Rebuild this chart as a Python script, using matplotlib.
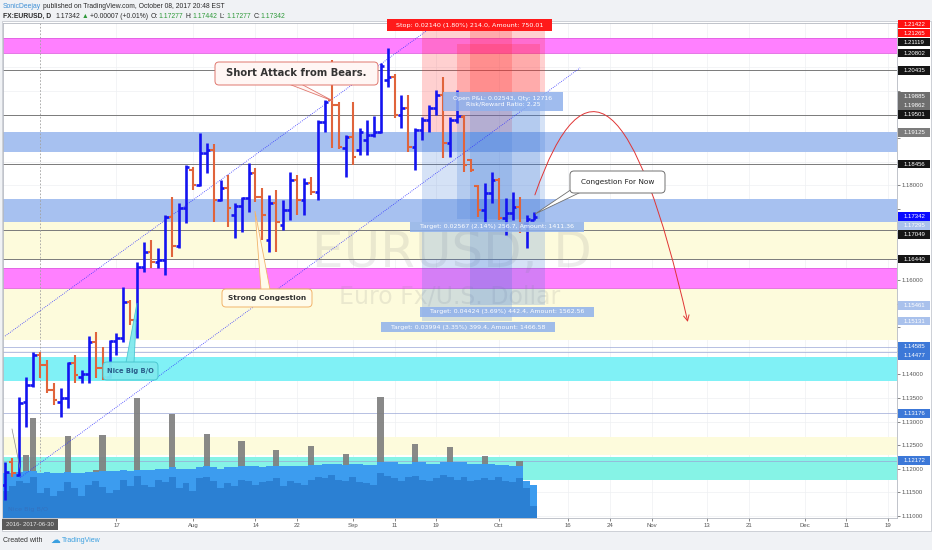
import matplotlib
matplotlib.use("Agg")
import matplotlib.pyplot as plt
import numpy as np
import pandas as pd
from matplotlib.patches import Rectangle, FancyBboxPatch, Polygon, FancyArrowPatch
from matplotlib.path import Path
from matplotlib.transforms import Affine2D, blended_transform_factory

plt.rcParams['font.family'] = ['Liberation Sans', 'DejaVu Sans']

# ------------------------------------------------------------------ data
first_bar = "2017-06-23"
last_axis_day = "2017-12-29"

opens = [1.1165, 1.1215, 1.1187, 1.1341, 1.1377, 1.1441, 1.1420, 1.1367, 1.1341, 1.1350,
         1.1424, 1.1394, 1.1401, 1.1469, 1.1413, 1.1394, 1.1470, 1.1477, 1.1553, 1.1515,
         1.1628, 1.1659, 1.1638, 1.1642, 1.1734, 1.1672, 1.1753, 1.1833, 1.1801, 1.1869,
         1.1876, 1.1770, 1.1795, 1.1738, 1.1757, 1.1774, 1.1827, 1.1776, 1.1685, 1.1763,
         1.1717, 1.1748, 1.1812, 1.1770, 1.1806, 1.1787, 1.1935, 1.1982, 1.1971, 1.1880,
         1.1903, 1.1876, 1.1897, 1.1907, 1.1914, 1.2024, 1.2030, 1.1950, 1.1965, 1.1882,
         1.1918, 1.1939, 1.1965, 1.1992, 1.1890, 1.1939, 1.1944, 1.1854, 1.1799, 1.1748,
         1.1784, 1.1812, 1.1731, 1.1742, 1.1755, 1.1721, 1.17277]
highs = [1.1214, 1.1223, 1.1352, 1.1394, 1.1447, 1.1447, 1.1430, 1.1382, 1.1371, 1.1426,
         1.1441, 1.1409, 1.1481, 1.1490, 1.1458, 1.1473, 1.1488, 1.1585, 1.1558, 1.1638,
         1.1681, 1.1685, 1.1668, 1.1738, 1.1776, 1.1763, 1.1844, 1.1840, 1.1912, 1.1890,
         1.1888, 1.1812, 1.1823, 1.1763, 1.1776, 1.1848, 1.1837, 1.1795, 1.1780, 1.1791,
         1.1770, 1.1829, 1.1823, 1.1816, 1.1818, 1.1939, 1.1982, 1.2066, 1.1977, 1.1907,
         1.1977, 1.1922, 1.1939, 1.1948, 1.2060, 1.2092, 1.2035, 1.1992, 1.1992, 1.1922,
         1.1946, 1.1971, 1.2003, 1.2030, 1.1946, 1.2003, 1.1950, 1.1857, 1.1801, 1.1806,
         1.1829, 1.1815, 1.1774, 1.1787, 1.1776, 1.1738, 1.17442]
lows = [1.1134, 1.1182, 1.1185, 1.1288, 1.1373, 1.1392, 1.1360, 1.1335, 1.1310, 1.1329,
        1.1382, 1.1382, 1.1382, 1.1392, 1.1388, 1.1392, 1.1441, 1.1469, 1.1505, 1.1477,
        1.1617, 1.1625, 1.1625, 1.1611, 1.1649, 1.1668, 1.1721, 1.1791, 1.1798, 1.1827,
        1.1723, 1.1768, 1.1712, 1.1689, 1.1702, 1.1744, 1.1765, 1.1685, 1.1659, 1.1659,
        1.1706, 1.1727, 1.1738, 1.1738, 1.1780, 1.1770, 1.1914, 1.1880, 1.1878, 1.1818,
        1.1844, 1.1865, 1.1865, 1.1903, 1.1912, 1.2009, 1.1943, 1.1922, 1.1871, 1.1833,
        1.1897, 1.1914, 1.1950, 1.1859, 1.1861, 1.1933, 1.1829, 1.1829, 1.1734, 1.1723,
        1.1763, 1.1727, 1.1695, 1.1727, 1.1700, 1.1668, 1.17277]
closes = [1.1193, 1.1191, 1.1339, 1.1377, 1.1441, 1.1420, 1.1367, 1.1346, 1.1350, 1.1424,
          1.1399, 1.1401, 1.1469, 1.1413, 1.1394, 1.1470, 1.1477, 1.1553, 1.1515, 1.1628,
          1.1659, 1.1638, 1.1642, 1.1734, 1.1672, 1.1753, 1.1840, 1.1801, 1.1869, 1.1876,
          1.1770, 1.1795, 1.1753, 1.1757, 1.1774, 1.1827, 1.1776, 1.1738, 1.1763, 1.1723,
          1.1748, 1.1812, 1.1770, 1.1806, 1.1787, 1.1935, 1.1977, 1.1971, 1.1882, 1.1903,
          1.1861, 1.1914, 1.1907, 1.1914, 1.2052, 1.2030, 1.1950, 1.1965, 1.1882, 1.1918,
          1.1939, 1.1965, 1.1992, 1.1890, 1.1939, 1.1948, 1.1844, 1.1833, 1.1748, 1.1784,
          1.1812, 1.1731, 1.1742, 1.1755, 1.1721, 1.1728, 1.17342]

volume = [28, 30, 33, 51, 81, 30, 32, 30, 28, 66, 30, 28, 31, 39, 67, 30, 33, 39, 32, 97,
          34, 35, 39, 38, 84, 35, 36, 33, 37, 68, 38, 34, 36, 35, 62, 36, 38, 35, 37, 55,
          36, 34, 37, 36, 58, 38, 40, 42, 38, 52, 40, 39, 38, 40, 98, 42, 40, 38, 41, 60,
          40, 39, 41, 42, 57, 40, 41, 40, 42, 50, 41, 40, 39, 40, 46, 30, 8]
volume_avg = [36, 36, 37, 38, 38, 36, 37, 36, 36, 37, 36, 36, 37, 37, 38, 38, 38, 39, 38, 39,
              39, 39, 40, 40, 41, 40, 40, 40, 41, 42, 41, 40, 41, 41, 42, 42, 42, 41, 42, 42,
              42, 42, 42, 42, 43, 43, 44, 44, 44, 43, 44, 44, 43, 43, 45, 45, 45, 44, 44, 45,
              45, 44, 44, 45, 45, 45, 45, 44, 44, 44, 44, 43, 43, 42, 42, 30, 27]
volume_base = [22, 26, 30, 28, 33, 20, 24, 18, 22, 29, 24, 18, 27, 30, 25, 20, 23, 31, 26, 34,
               27, 25, 31, 29, 33, 24, 28, 22, 32, 33, 30, 24, 28, 26, 31, 30, 27, 29, 30, 32,
               26, 30, 28, 27, 31, 33, 32, 35, 31, 30, 33, 29, 28, 27, 36, 34, 32, 30, 33, 34,
               31, 30, 32, 35, 33, 31, 33, 30, 31, 32, 31, 33, 30, 29, 32, 24, 10]

tick_dates = ["2017-07-17", "2017-08-01", "2017-08-14", "2017-08-22", "2017-09-01",
              "2017-09-11", "2017-09-19", "2017-10-02", "2017-10-16", "2017-10-24",
              "2017-11-01", "2017-11-13", "2017-11-21", "2017-12-01", "2017-12-11",
              "2017-12-19"]
tick_labels = ["17", "Aug", "14", "22", "Sep", "11", "19", "Oct", "16", "24", "Nov",
               "13", "21", "Dec", "11", "19"]

band_low = [1.20802, 1.18710, 1.17235, 1.16440, 1.15830, 1.14730, 1.13860, 1.12290, 1.11760]
band_high = [1.21119, 1.19125, 1.17720, 1.17235, 1.16250, 1.15830, 1.14370, 1.12670, 1.12250]
band_colors = ['#ff80ff', '#a7c1f0', '#a7c1f0', '#fdfbdc', '#ff80ff', '#fdfbdc',
               '#80f1f6', '#fdfbdc', '#86f3e6']

level_lines = [1.20435, 1.19501, 1.18456, 1.17049, 1.16440]
thin_levels = [1.14585, 1.14477, 1.13176, 1.12172]

axis_label_prices = [1.21422, 1.21265, 1.21119, 1.20802, 1.20435, 1.19885, 1.19862,
                     1.19501, 1.19125, 1.18456, 1.17342, 1.17295, 1.17049, 1.16440,
                     1.15461, 1.15131, 1.14585, 1.14477, 1.13176, 1.12172]
axis_label_colors = ['#ff1010', '#ff1010', '#151515', '#151515', '#151515', '#6e6e6e',
                     '#6e6e6e', '#151515', '#7c7c7c', '#151515', '#0a0aff', '#a9c1ec',
                     '#151515', '#151515', '#a9c1ec', '#a9c1ec', '#3c78d8', '#3c78d8',
                     '#3c78d8', '#3c78d8']

# short position tools: entry / stop / target
tool_entry = [1.19125, 1.19862, 1.19885]
tool_stop = [1.21265, 1.21003, 1.21422]
tool_target = [1.15131, 1.17295, 1.15461]

stop_text = "Stop: 0.02140 (1.80%) 214.0, Amount: 750.01"
pnl_text = "Open P&L: 0.02543, Qty: 12716\nRisk/Reward Ratio: 2.25"
target_texts = ["Target: 0.03994 (3.35%) 399.4, Amount: 1466.58",
                "Target: 0.02567 (2.14%) 256.7, Amount: 1411.36",
                "Target: 0.04424 (3.69%) 442.4, Amount: 1562.56"]

# ------------------------------------------------------------------ layout
W, H = 932, 550
AX_L, AX_R, AX_T, AX_B = 3, 897, 23, 518
XMIN, XMAX = -0.33, 128.3
YMIN, YMAX = 1.10958, 1.2144

fig = plt.figure(figsize=(W / 100, H / 100), dpi=100)
fig.patch.set_facecolor('#f0f2f5')
T = Affine2D().scale(1 / W, -1 / H).translate(0, 1) + fig.transFigure


def ftext(x, y, s, **kw):
    kw.setdefault('transform', T)
    return fig.text(x, y, s, **kw)


fig.add_artist(Rectangle((2, 21), 929, 510, transform=T, facecolor='white',
                         edgecolor='#c6cad1', lw=0.6, zorder=-1))

ax = fig.add_axes([AX_L / W, (H - AX_B) / H, (AX_R - AX_L) / W, (AX_B - AX_T) / H])
ax.set_facecolor('white')

days = pd.bdate_range(first_bar, last_axis_day)
tick_pos = [days.get_loc(pd.Timestamp(d)) for d in tick_dates]

o, h, l, c = (np.array(a) for a in (opens, highs, lows, closes))
x = np.arange(len(o))

# bands and levels
for lo_, hi_, col in zip(band_low, band_high, band_colors):
    ax.axhspan(lo_, hi_, color=col, lw=0, zorder=1)
for lv in (1.20802, 1.21119, 1.15830, 1.16250):
    ax.axhline(lv, color='#e060e0', lw=0.6, zorder=1.2)
for lv in level_lines:
    ax.axhline(lv, color='#7a7a7a', lw=0.7, zorder=1.2)
for lv in thin_levels:
    ax.axhline(lv, color='#9aa6d6', lw=0.5, zorder=1.2)
ax.axvline(days.get_loc(pd.Timestamp("2017-06-30")), color='#a0a0a0', lw=0.6,
           ls=(0, (2, 2)), zorder=1.3)

# watermark
ax.text(452, 253, "EURUSD, D", transform=T, fontsize=36, family='DejaVu Sans',
        color='#8a8a8a', alpha=0.16, ha='center', va='center', zorder=1.5)
ax.text(450, 297, "Euro Fx/U.S. Dollar", transform=T, fontsize=17, family='DejaVu Sans',
        color='#8a8a8a', alpha=0.16, ha='center', va='center', zorder=1.5)

# position tools
tool_x = [(59.9, 72.9), (65.0, 76.9), (66.9, 77.7)]
for (x0, x1), e, s, t in zip(tool_x, tool_entry, tool_stop, tool_target):
    ax.add_patch(Rectangle((x0, e), x1 - x0, s - e, facecolor='#ff2a2a', alpha=0.22,
                           lw=0, zorder=2))
    ax.add_patch(Rectangle((x0, t), x1 - x0, e - t, facecolor='#3c78d8', alpha=0.21,
                           lw=0, zorder=2))

# volume
vtr = blended_transform_factory(ax.transData, ax.transAxes)
VOL_SPAN = 400.0
ax.bar(x, np.array(volume) / VOL_SPAN, width=0.9, color='#7f7f7f', alpha=0.92,
       transform=vtr, zorder=3)
ax.bar(x, np.array(volume_avg) / VOL_SPAN, width=1.0, color='#3c9cef', lw=0,
       transform=vtr, zorder=3.1)
ax.bar(x, np.array(volume_base) / VOL_SPAN, width=1.0, color='#2b80d3', lw=0,
       transform=vtr, zorder=3.2)

# trend lines
ax.plot([-0.04, 61.8], [1.1481, 1.2140], color='#3535ff', lw=0.6, ls=(0, (1, 1.5)), zorder=4)
ax.plot([2.1, 82.7], [1.1181, 1.2049], color='#3535ff', lw=0.6, ls=(0, (1, 1.5)), zorder=4)

# OHLC bars
up = c >= o
for mask, col, lw in ((up, '#1414f0', 1.9), (~up, '#e0643c', 1.5)):
    ax.vlines(x[mask], l[mask], h[mask], color=col, lw=lw, zorder=5)
    ax.hlines(o[mask], x[mask] - 0.5, x[mask], color=col, lw=lw, zorder=5)
    ax.hlines(c[mask], x[mask], x[mask] + 0.5, color=col, lw=lw, zorder=5)

# projected red arc
arc = Path([(76.2, 1.1780), (87.0, 1.2236), (98.2, 1.1511)],
           [Path.MOVETO, Path.CURVE3, Path.CURVE3])
ax.add_patch(FancyArrowPatch(path=arc, arrowstyle='->,head_length=4,head_width=2',
                             color='#e03434', lw=0.7, zorder=6))

# price-axis label placement (pushed apart like the platform does)
ppu = (AX_B - AX_T) / (YMAX - YMIN)
order = np.argsort(-np.array(axis_label_prices))
label_y = {}
prev = -1e9
for i in order:
    y = AX_T + (YMAX - axis_label_prices[i]) * ppu
    y = max(y, prev + 9.0)
    prev = y
    label_y[i] = y

# axes styling
ax.set_xlim(XMIN, XMAX)
ax.set_ylim(YMIN, YMAX)
for sp in ax.spines.values():
    sp.set_color('#b5b9c1')
    sp.set_linewidth(0.6)
ax.yaxis.tick_right()
yt = np.round(np.arange(1.110, 1.2141, 0.005), 3)
ax.set_yticks(yt)
ytl = []
for v in yt:
    ty = AX_T + (YMAX - v) * ppu
    covered = any(abs(ty - ly) < 8.0 for ly in label_y.values())
    ytl.append("" if covered else f"{v:.5f}")
ax.set_yticklabels(ytl)
ax.set_xticks(tick_pos)
ax.set_xticklabels(tick_labels)
ax.tick_params(axis='both', labelsize=4.3, colors='#555555', length=2, width=0.5, pad=1.5)
ax.grid(True, color='#eef0f3', lw=0.5)
ax.set_axisbelow(True)

# ------------------------------------------------------------------ overlays
# tool labels
fig.add_artist(Rectangle((387, 19), 165, 12, transform=T, facecolor='#ff1a1a', lw=0, zorder=20))
ftext(469.5, 25.2, stop_text, fontsize=4.6, family='DejaVu Sans', color='white',
      ha='center', va='center', zorder=21)
fig.add_artist(Rectangle((443, 92), 120, 19, transform=T, facecolor='#8fb1ec', alpha=0.85,
                         lw=0, zorder=20))
ftext(503, 101.5, pnl_text, fontsize=4.5, family='DejaVu Sans', color='white', ha='center',
      va='center', linespacing=1.2, zorder=21)
for (cx, cy), s in zip([(468, 327), (497, 226.5), (507, 312)], target_texts):
    fig.add_artist(Rectangle((cx - 87, cy - 5), 174, 10, transform=T, facecolor='#8fb1ec',
                             alpha=0.85, lw=0, zorder=20))
    ftext(cx, cy, s, fontsize=4.5, family='DejaVu Sans', color='white', ha='center',
          va='center', zorder=21)


def callout(box, tip, base, text, fc, ec, tc, size, weight, alpha=1.0):
    bx, by, bw, bh = box
    fig.add_artist(Polygon([base[0], tip, base[1]], closed=True, transform=T, facecolor=fc,
                           edgecolor=ec, lw=0.6, alpha=alpha, zorder=22))
    fig.add_artist(FancyBboxPatch((bx, by), bw, bh, boxstyle='round,pad=0,rounding_size=4',
                                  transform=T, facecolor=fc, edgecolor=ec, lw=0.7,
                                  alpha=alpha, zorder=23))
    ftext(bx + bw / 2, by + bh / 2, text, fontsize=size, fontweight=weight,
          family='DejaVu Sans', color=tc, ha='center', va='center', zorder=24)


callout((215, 62, 163, 23), (333, 101), ((290, 84.5), (302, 84.5)), "Short Attack from Bears.",
        '#fff6f4', '#e0776e', '#333333', 7.2, 'bold')
callout((222, 289, 90, 18), (255, 211), ((261, 289.5), (270, 289.5)), "Strong Congestion",
        '#fffbea', '#f2b36a', '#333333', 5.3, 'bold')
callout((570, 171, 95, 22), (535, 214), ((572, 189), (580, 192.5)), "Congestion For Now",
        '#ffffff', '#707070', '#222222', 5.3, 'normal')
callout((103, 362, 55, 18), (137, 303), ((126, 362.5), (134, 362.5)), "Nice Big B/O",
        '#7fe9ee', '#47c6cf', '#2a5d8a', 4.9, 'bold', alpha=0.95)
fig.add_artist(plt.Line2D([12, 21], [429, 473], transform=T, color='#8a8a8a', lw=0.5, zorder=22))
ftext(8, 510, "Nice Big B/O", fontsize=4.6, family='DejaVu Sans', color='#3a66b0',
      alpha=0.55, ha='left', va='center', zorder=22)

# price-axis labels
for i, y in label_y.items():
    fig.add_artist(Rectangle((898, y - 4.3), 32, 8.6, transform=T,
                             facecolor=axis_label_colors[i], lw=0, zorder=20))
    ftext(914, y + 0.2, f"{axis_label_prices[i]:.5f}", fontsize=4.3, color='white',
          ha='center', va='center', zorder=21)

# time-axis marker label
fig.add_artist(Rectangle((2, 518.5), 56, 11, transform=T, facecolor='#5a5a5a', lw=0, zorder=20))
ftext(30, 524, "2016- 2017-06-30", fontsize=4.3, color='#e8e8e8', ha='center', va='center',
      zorder=21)

# header
renderer = fig.canvas.get_renderer()


def seq(xs, y, parts, size):
    for s, col, wt, gap in parts:
        t = ftext(xs, y, s, color=col, fontsize=size, fontweight=wt, ha='left', va='center',
                  family=['Liberation Sans', 'DejaVu Sans'])
        xs += t.get_window_extent(renderer).width + gap
    return xs


green = '#2f9a3a'
dark = '#2a2a2a'
seq(3, 6.5, [("SonicDeejay", '#3d8fd6', 'normal', 2.0),
             ("published on TradingView.com, October 08, 2017 20:48 EST", dark, 'normal', 0)],
    4.9)
seq(3, 16, [("FX:EURUSD, D", dark, 'bold', 4.0), ("1.17342", dark, 'normal', 2.0),
            ("\u25B2", green, 'normal', 1.5), ("+0.00007 (+0.01%)", dark, 'normal', 2.5),
            ("O:", dark, 'normal', 0.5), ("1.17277", green, 'normal', 2.5),
            ("H:", dark, 'normal', 0.5), ("1.17442", green, 'normal', 2.5),
            ("L:", dark, 'normal', 0.5), ("1.17277", green, 'normal', 2.5),
            ("C:", dark, 'normal', 0.5), ("1.17342", green, 'normal', 0)], 4.9)

# footer
ftext(3, 540, "Created with", fontsize=5, color='#333333', ha='left', va='center')
ftext(50, 539.5, "\u2601", fontsize=7, family='DejaVu Sans', color='#3ba0e0', ha='left',
      va='center')
ftext(62, 540, "TradingView", fontsize=5, color='#3ba0e0', ha='left', va='center')

fig.savefig("out.png", dpi=100, facecolor=fig.get_facecolor())
